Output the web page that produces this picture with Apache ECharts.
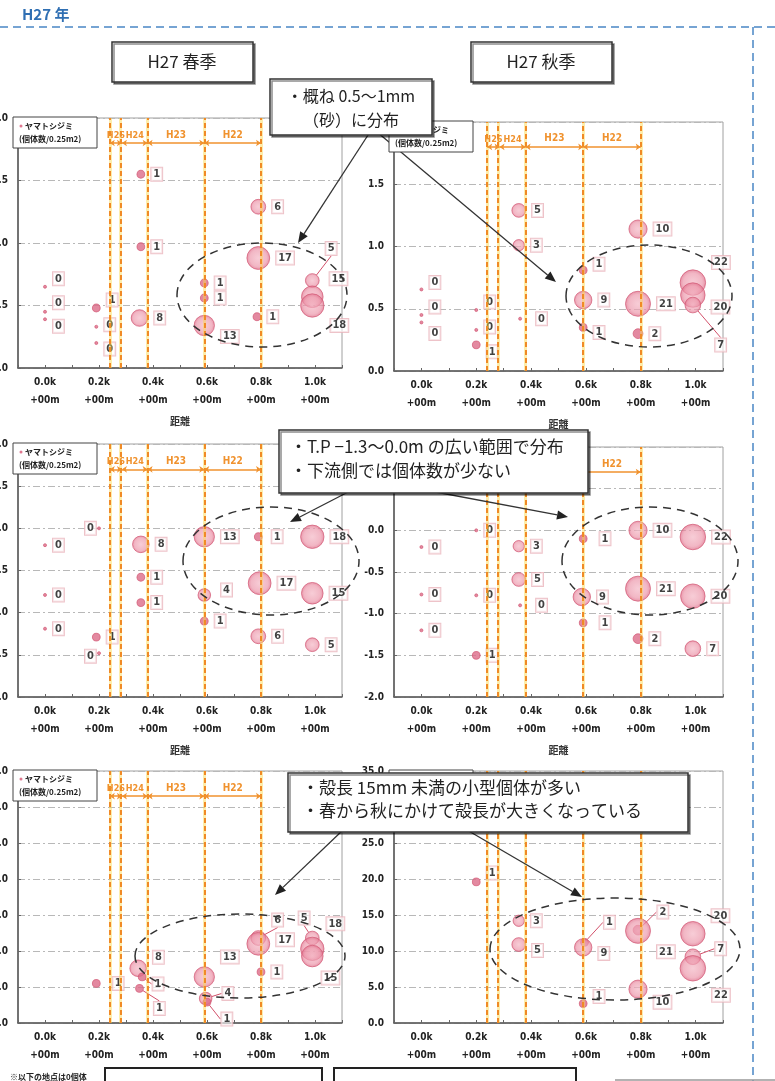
<!DOCTYPE html>
<html>
<head>
<meta charset="utf-8">
<script src="https://cdn.jsdelivr.net/npm/echarts@6/dist/echarts.min.js"></script>
<style>
  html, body { margin: 0; padding: 0; background: #fff; }
  #main { width: 775px; height: 1081px; }
</style>
</head>
<body>
<div id="main"></div>
<script>
  // [距離(k), 値, 個体数/0.25m2]
  var springGrain = [
    [0.0, 0.65, 0], [0.0, 0.45, 0], [0.0, 0.39, 0],
    [0.19, 0.48, 1], [0.19, 0.33, 0], [0.19, 0.20, 0],
    [0.355, 1.55, 1], [0.355, 0.97, 1], [0.35, 0.40, 8],
    [0.59, 0.68, 1], [0.59, 0.56, 1], [0.59, 0.34, 13],
    [0.79, 1.29, 6], [0.79, 0.88, 17], [0.785, 0.41, 1],
    [0.99, 0.70, 5], [0.99, 0.57, 15], [0.99, 0.50, 18]
  ];
  var autumnGrain = [
    [0.0, 0.655, 0], [0.0, 0.45, 0], [0.0, 0.39, 0],
    [0.2, 0.49, 0], [0.2, 0.33, 0], [0.2, 0.21, 1],
    [0.355, 1.29, 5], [0.355, 1.01, 3], [0.36, 0.42, 0],
    [0.59, 0.81, 1], [0.59, 0.57, 9], [0.59, 0.35, 1],
    [0.79, 1.14, 10], [0.79, 0.54, 21], [0.79, 0.30, 2],
    [0.99, 0.71, 22], [0.99, 0.61, 20], [0.99, 0.53, 7]
  ];
  var springElev = [
    [0.0, -0.2, 0], [0.0, -0.79, 0], [0.0, -1.19, 0],
    [0.2, 0.0, 0], [0.19, -1.29, 1], [0.2, -1.48, 0],
    [0.355, -0.19, 8], [0.355, -0.58, 1], [0.355, -0.88, 1],
    [0.59, -0.1, 13], [0.59, -0.79, 4], [0.59, -1.1, 1],
    [0.79, -0.1, 1], [0.795, -0.65, 17], [0.79, -1.28, 6],
    [0.99, -0.1, 18], [0.99, -0.77, 15], [0.99, -1.38, 5]
  ];
  var autumnElev = [
    [0.0, -0.2, 0], [0.0, -0.77, 0], [0.0, -1.2, 0],
    [0.2, 0.0, 0], [0.2, -0.78, 0], [0.2, -1.5, 1],
    [0.355, -0.19, 3], [0.355, -0.59, 5], [0.36, -0.9, 0],
    [0.59, -0.1, 1], [0.585, -0.8, 9], [0.59, -1.11, 1],
    [0.79, 0.0, 10], [0.79, -0.7, 21], [0.79, -1.3, 2],
    [0.99, -0.08, 22], [0.99, -0.79, 20], [0.99, -1.42, 7]
  ];
  var springShell = [
    [0.19, 5.5, 1],
    [0.345, 7.6, 8], [0.36, 6.4, 1], [0.35, 4.8, 1],
    [0.59, 6.4, 13], [0.595, 3.4, 4], [0.6, 2.9, 1],
    [0.79, 11.8, 6], [0.79, 11.0, 17], [0.8, 7.1, 1],
    [0.99, 11.8, 5], [0.99, 10.3, 18], [0.99, 9.3, 15]
  ];
  var autumnShell = [
    [0.2, 19.6, 1],
    [0.355, 14.2, 3], [0.355, 10.9, 5],
    [0.595, 11.2, 1], [0.59, 10.5, 9], [0.59, 2.7, 1],
    [0.79, 12.9, 2], [0.79, 12.8, 21], [0.79, 4.7, 10],
    [0.99, 12.4, 20], [0.99, 9.2, 7], [0.99, 7.6, 22]
  ];

  var distLabels = ['0.0k', '0.2k', '0.4k', '0.6k', '0.8k', '1.0k'];
  var boundaryX = [0.24, 0.285, 0.38, 0.59, 0.8];
  var periods = ['H26', 'H24', 'H23', 'H22'];

  // label nudges [dx, dy, leader line]
  var offA = {0:[0,-8],1:[0,-9],2:[0,7],3:[0,-8],4:[0,-2],5:[0,6],11:[0,11],15:[0,-32,1],16:[0,-18],17:[0,20]};
  var offB = {0:[0,-7],1:[0,-8],2:[0,11],3:[0,-8],4:[0,-3],5:[0,7],8:[8,0],9:[0,-6],11:[0,5],15:[0,-20],16:[0,12],17:[8,40,1]};
  var offC = {3:[-22,0],5:[-22,3],10:[4,-5],12:[3,0]};
  var offD = {8:[8,0],9:[6,0],11:[6,0]};
  var offE = {0:[6,0],1:[0,-11],2:[0,7,1],3:[4,20,1],4:[0,-20],5:[4,-5,1],6:[4,17,1],7:[0,-18,1],8:[0,-4],10:[-27,-20,1],11:[-4,-25],12:[-8,22]};
  var offF = {0:[0,-9],2:[0,6],3:[9,-20,1],4:[0,6],5:[0,-7],6:[8,-18,1],7:[0,21],8:[0,13],9:[0,-18],10:[8,-8,1],11:[0,27]};

  var FN = "'Liberation Sans Narrow','DejaVu Sans Condensed',sans-serif";
  var FJ = "'Noto Sans CJK JP',sans-serif";

  var charts = [
    { data: springGrain, offs: offA, box: [18, 118, 324, 250], y: [0, 2, 0.5] },
    { data: autumnGrain, offs: offB, box: [394, 122, 329, 249], y: [0, 2, 0.5] },
    { data: springElev, offs: offC, box: [18, 444, 324, 253], y: [-2, 1, 0.5] },
    { data: autumnElev, offs: offD, box: [394, 447, 329, 250], y: [-2, 1, 0.5] },
    { data: springShell, offs: offE, box: [18, 771, 324, 252], y: [0, 35, 5] },
    { data: autumnShell, offs: offF, box: [394, 771, 329, 252], y: [0, 35, 5] }
  ];

  var bubbleFill = new echarts.graphic.RadialGradient(0.5, 0.5, 0.5, [
    { offset: 0, color: 'rgba(244,182,196,0.85)' },
    { offset: 0.7, color: 'rgba(236,150,170,0.85)' },
    { offset: 1, color: 'rgba(220,100,130,0.9)' }
  ]);

  var option = { animation: false, grid: [], xAxis: [], yAxis: [], series: [] };

  charts.forEach(function (c, i) {
    option.grid.push({
      left: c.box[0], top: c.box[1], width: c.box[2], height: c.box[3],
      show: true, borderColor: '#a0a0a0', borderWidth: 1,
      containLabel: false, outerBoundsMode: 'none'
    });
    option.xAxis.push({
      gridIndex: i, type: 'value', min: -0.1, max: 1.1, interval: 0.1,
      name: '距離', nameLocation: 'middle', nameGap: 48,
      nameTextStyle: { fontFamily: FJ, fontSize: 10, fontWeight: 'bold', color: '#333' },
      axisLine: { show: true, onZero: false, lineStyle: { color: '#555', width: 1.5 } },
      axisTick: { show: true, inside: true, length: 3, lineStyle: { color: '#666' } },
      splitLine: { show: false },
      axisLabel: {
        margin: 5, fontSize: 10, lineHeight: 18, color: '#222', fontWeight: 'bold', fontFamily: FN,
        formatter: function (v) {
          var k = Math.round(v * 10);
          if (k < 0 || k % 2 || k / 2 >= distLabels.length) return '';
          return distLabels[k / 2] + '\n+00m';
        }
      }
    });
    option.yAxis.push({
      gridIndex: i, type: 'value', min: c.y[0], max: c.y[1], interval: c.y[2],
      axisLine: { show: true, onZero: false, lineStyle: { color: '#555', width: 1.5 } },
      axisTick: { show: true, inside: true, length: 3, lineStyle: { color: '#666' } },
      splitLine: { show: true, lineStyle: { color: '#b8b8b8', type: [7, 3, 2, 3] } },
      axisLabel: {
        margin: 10, fontSize: 10, color: '#222', fontWeight: 'bold', fontFamily: FN,
        formatter: function (v) { return v.toFixed(1); }
      }
    });

    var py = c.y[0] + 0.9 * (c.y[1] - c.y[0]);
    var lines = [];
    boundaryX.forEach(function (v) {
      lines.push({ xAxis: v, lineStyle: { color: 'rgba(250,214,70,0.45)', type: 'solid', width: 3 }, label: { show: false } });
      lines.push({ xAxis: v, lineStyle: { color: '#f08a26', type: [5, 3], width: 2 }, label: { show: false } });
    });
    periods.forEach(function (p, j) {
      lines.push([
        { coord: [boundaryX[j], py], name: p, symbol: 'arrow', symbolSize: 5,
          lineStyle: { color: '#f0922e', type: 'solid', width: 1.5 },
          label: { show: true, position: 'middle', formatter: p, color: '#f0922e', fontSize: j < 2 ? 9 : 10, fontWeight: 'bold', fontFamily: FN, distance: 3 } },
        { coord: [boundaryX[j + 1], py], symbol: 'arrow', symbolSize: 5 }
      ]);
    });

    var offs = c.offs;
    option.series.push({
      type: 'scatter', xAxisIndex: i, yAxisIndex: i,
      data: c.data.map(function (d, k) {
        return { value: d, labelLine: { show: !!(offs[k] && offs[k][2]) } };
      }),
      symbolSize: function (val) { return 3 + 4.8 * Math.sqrt(val[2]); },
      itemStyle: {
        color: function (p) { return p.value[2] <= 2 ? '#dc6c88' : bubbleFill; },
        borderColor: 'rgba(210,90,118,0.9)', borderWidth: 1
      },
      label: {
        show: true, position: 'right', distance: 6,
        formatter: function (p) { return p.value[2]; },
        color: '#111', fontSize: 11, fontWeight: 'bold', fontFamily: FN,
        backgroundColor: 'rgba(255,255,255,0.75)', borderColor: '#eab4bc', borderWidth: 1, padding: [1, 2]
      },
      labelLine: { lineStyle: { color: '#d2506a', width: 1 } },
      labelLayout: function (p) {
        var o = offs[p.dataIndex];
        return o ? { dx: o[0], dy: o[1] } : {};
      },
      markLine: { silent: true, symbol: 'none', animation: false, data: lines }
    });
  });

  // decorations
  var G = [];
  function add(el) { el.z = el.z || 100; G.push(el); }
  function arrow(x1, y1, x2, y2) {
    var a = Math.atan2(y2 - y1, x2 - x1), L = 11, W = 4.5;
    var bx = x2 - L * Math.cos(a), by = y2 - L * Math.sin(a);
    var px = -Math.sin(a) * W, qy = Math.cos(a) * W;
    add({ type: 'line', shape: { x1: x1, y1: y1, x2: bx, y2: by }, style: { stroke: '#333', lineWidth: 1.3 } });
    add({ type: 'polygon', shape: { points: [[x2, y2], [bx + px, by + qy], [bx - px, by - qy]] }, style: { fill: '#222' } });
  }
  function ellipse(cx, cy, rx, ry) {
    add({ type: 'ellipse', shape: { cx: cx, cy: cy, rx: rx, ry: ry }, style: { fill: 'none', stroke: '#333', lineWidth: 1.5, lineDash: [8, 6] } });
  }
  function box(x, y, w, h, shadow) {
    var st = { fill: '#fff', stroke: '#333', lineWidth: 1.5 };
    if (shadow) { st.shadowColor = 'rgba(0,0,0,0.45)'; st.shadowOffsetX = 2; st.shadowOffsetY = 2; st.shadowBlur = 0; }
    add({ type: 'rect', shape: { x: x, y: y, width: w, height: h }, style: st, z: 110 });
  }
  function text(x, y, s, font, align, color) {
    add({ type: 'text', style: { x: x, y: y, text: s, font: font, fill: color || '#222', align: align || 'left', verticalAlign: 'middle' }, z: 111 });
  }

  // page frame
  text(22, 14, 'H27 年', 'bold 15px ' + FJ, 'left', '#2f6fb3');
  add({ type: 'line', shape: { x1: 0, y1: 27, x2: 775, y2: 27 }, style: { stroke: '#4a86c5', lineWidth: 1.5, lineDash: [8, 5] } });
  add({ type: 'line', shape: { x1: 753, y1: 27, x2: 753, y2: 1081 }, style: { stroke: '#4a86c5', lineWidth: 1.5, lineDash: [8, 5] } });

  // season boxes
  box(112, 42, 141, 40, true);
  text(182, 62, 'H27 春季', '17px ' + FJ, 'center');
  box(471, 42, 141, 40, true);
  text(541, 62, 'H27 秋季', '17px ' + FJ, 'center');

  // legend boxes
  charts.forEach(function (c) {
    var gx = c.box[0] - 5, gy = c.box[1] - 1;
    add({ type: 'rect', shape: { x: gx, y: gy, width: 84, height: 31 }, style: { fill: '#fff', stroke: '#444', lineWidth: 1 }, z: 105 });
    add({ type: 'circle', shape: { cx: gx + 8, cy: gy + 9, r: 1.5 }, style: { fill: '#e07890' }, z: 106 });
    add({ type: 'text', style: { x: gx + 12, y: gy + 9, text: 'ヤマトシジミ', font: 'bold 8px ' + FJ, fill: '#222', verticalAlign: 'middle' }, z: 106 });
    add({ type: 'text', style: { x: gx + 6, y: gy + 22, text: '(個体数/0.25m2)', font: 'bold 8px ' + FJ, fill: '#222', verticalAlign: 'middle' }, z: 106 });
  });

  // ellipses
  ellipse(262, 295, 85, 52);
  ellipse(649, 296, 83, 51);
  ellipse(271, 561, 88, 54);
  ellipse(650, 561, 88, 54);
  ellipse(240, 956, 105, 42);
  ellipse(615, 949, 125, 51);

  // arrows
  arrow(370, 132, 298, 243);
  arrow(377, 132, 556, 282);
  arrow(352, 490, 290, 522);
  arrow(425, 490, 568, 517);
  arrow(343, 830, 275, 895);
  arrow(467, 830, 582, 897);

  // callouts
  box(270, 79, 162, 56, true);
  text(351, 96, '・概ね 0.5～1mm', '16px ' + FJ, 'center');
  text(351, 120, '（砂）に分布', '16px ' + FJ, 'center');
  box(279, 430, 309, 63, true);
  text(290, 447, '・T.P −1.3～0.0m の広い範囲で分布', '17px ' + FJ);
  text(290, 471, '・下流側では個体数が少ない', '17px ' + FJ);
  box(288, 773, 400, 59, true);
  text(302, 788, '・殻長 15mm 未満の小型個体が多い', '17px ' + FJ);
  text(302, 811, '・春から秋にかけて殻長が大きくなっている', '17px ' + FJ);

  // bottom
  text(10, 1077, '※以下の地点は0個体', 'bold 8px ' + FJ);
  add({ type: 'rect', shape: { x: 105, y: 1068, width: 217, height: 30 }, style: { fill: '#fff', stroke: '#222', lineWidth: 2 }, z: 110 });
  add({ type: 'rect', shape: { x: 334, y: 1068, width: 242, height: 30 }, style: { fill: '#fff', stroke: '#222', lineWidth: 2 }, z: 110 });
  add({ type: 'line', shape: { x1: 615, y1: 1080, x2: 775, y2: 1080 }, style: { stroke: '#999', lineWidth: 1.5 } });

  option.graphic = G;

  var myChart = echarts.init(document.getElementById('main'));
  option && myChart.setOption(option);
</script>
</body>
</html>
